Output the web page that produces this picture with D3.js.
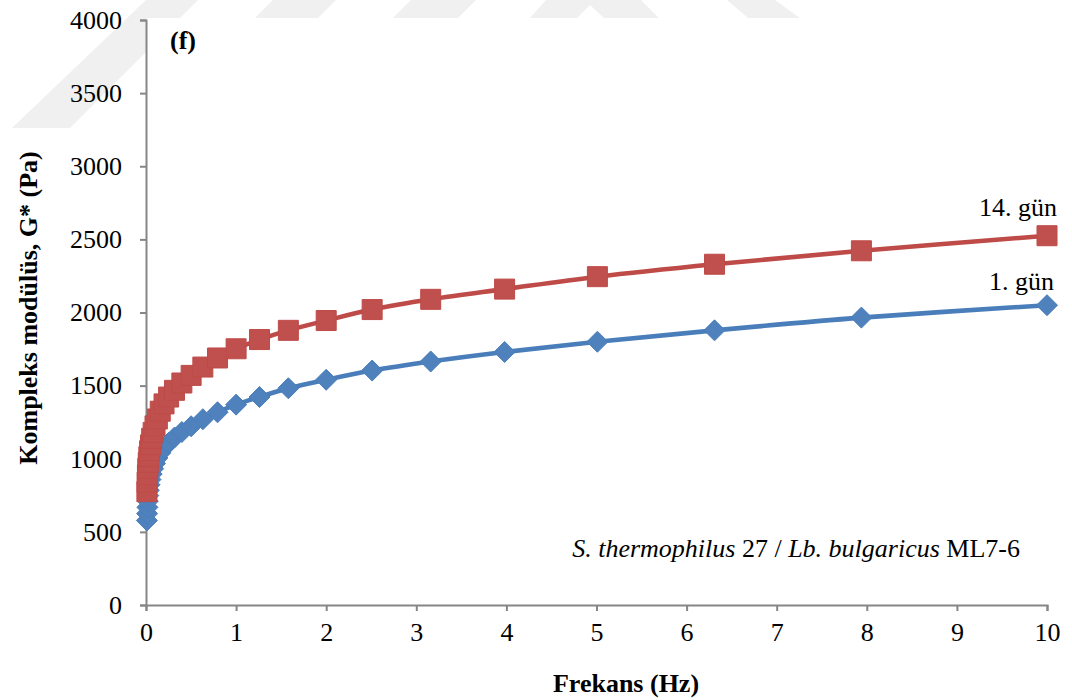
<!DOCTYPE html>
<html>
<head>
<meta charset="utf-8">
<script src="https://cdn.jsdelivr.net/npm/d3@7"></script>
<style>
  html, body { margin: 0; padding: 0; background: #fff; }
  svg { display: block; }
  text { font-family: "Liberation Serif", "Times New Roman", serif; fill: #000; }
</style>
</head>
<body>
<svg id="chart" width="1072" height="700"></svg>
<script>
// Oscillation frequency sweep (Hz), 10 points per decade
const frequency = [0.01, 0.0126, 0.0158, 0.02, 0.0251, 0.0316, 0.0398, 0.0501, 0.0631, 0.0794,
                   0.1, 0.126, 0.158, 0.2, 0.251, 0.316, 0.398, 0.501, 0.631, 0.794,
                   1.0, 1.26, 1.58, 2.0, 2.51, 3.16, 3.98, 5.01, 6.31, 7.94, 10];
// Complex modulus G* (Pa), day 1 of storage
const day1 = [578, 625, 668, 710, 748, 785, 822, 858, 895, 932,
              968, 1005, 1040, 1075, 1108, 1145, 1183, 1222, 1270, 1318,
              1370, 1422, 1482, 1540, 1603, 1665, 1730, 1800, 1878, 1965, 2050];
// Complex modulus G* (Pa), day 14 of storage
const day14 = [775, 840, 890, 935, 975, 1015, 1055, 1095, 1140, 1180,
               1225, 1272, 1325, 1375, 1422, 1468, 1518, 1570, 1627, 1689,
               1752, 1815, 1878, 1945, 2020, 2090, 2160, 2245, 2330, 2422, 2525];
const seriesNames = ["1. gün", "14. gün"];
const xTicks = [0, 1, 2, 3, 4, 5, 6, 7, 8, 9, 10];
const yTicks = [0, 500, 1000, 1500, 2000, 2500, 3000, 3500, 4000];

const svg = d3.select("#chart");
const axisColor = "#868686";
const blue = "#4A7EBB", blueFill = "#4F81BD";
const red = "#BE4B48", redFill = "#C0504D";
const fontSize = 26;

// faint background emblem, mostly hidden behind the chart area
const wm = svg.append("g").attr("fill", "#f0f0f0");
const shapes = [
  [[12,128],[70,128],[198,0],[146,0]],
  [[255,18],[318,18],[336,0],[273,0]],
  [[393,18],[458,18],[476,0],[411,0]],
  [[530,18],[546,0],[641,0],[659,18],[604,18],[590,5],[577,18]],
  [[727,0],[775,0],[800,18],[748,18]]
];
shapes.forEach(p => wm.append("polygon").attr("points", p.map(d => d.join(",")).join(" ")));
svg.append("rect").attr("x", 147).attr("y", 18).attr("width", 1072 - 147).attr("height", 700 - 18).attr("fill", "#fff");

const x = d3.scaleLinear().domain([0, 10]).range([146, 1047]);
const y = d3.scaleLinear().domain([0, 4000]).range([605, 20]);

// axes
const xAxis = svg.append("g").attr("transform", `translate(0,${y(0)})`)
  .call(d3.axisBottom(x).tickValues(xTicks).tickSize(6).tickPadding(12).tickFormat(d3.format("d")));
const yAxis = svg.append("g").attr("transform", `translate(${x(0)},0)`)
  .call(d3.axisLeft(y).tickValues(yTicks).tickSize(6).tickPadding(18).tickFormat(d3.format("d")));
[xAxis, yAxis].forEach(g => {
  g.select(".domain").attr("stroke", axisColor).attr("stroke-width", 2);
  g.selectAll(".tick line").attr("stroke", axisColor).attr("stroke-width", 2);
  g.selectAll(".tick text").attr("font-size", fontSize).attr("fill", "#000");
});

// series
const line = d3.line().x(d => x(d[0])).y(d => y(d[1])).curve(d3.curveCatmullRom.alpha(0.5));
const ptsDay1 = frequency.map((f, i) => [f, day1[i]]);
const ptsDay14 = frequency.map((f, i) => [f, day14[i]]);

function drawSeries(pts, color, fill, symbolType, size) {
  const g = svg.append("g");
  g.append("path").datum(pts).attr("d", line).attr("fill", "none")
    .attr("stroke", color).attr("stroke-width", 4.6).attr("stroke-linejoin", "round");
  g.selectAll("path.marker").data(pts).join("path").attr("class", "marker")
    .attr("d", d3.symbol().type(symbolType).size(size))
    .attr("transform", d => `translate(${x(d[0])},${y(d[1])})`)
    .attr("fill", fill).attr("stroke", color).attr("stroke-width", 1);
}
// diamond: rotated square
const diamond = { draw(ctx, size) { const r = Math.sqrt(size / 2); ctx.moveTo(0, -r); ctx.lineTo(r, 0); ctx.lineTo(0, r); ctx.lineTo(-r, 0); ctx.closePath(); } };
drawSeries(ptsDay1, blue, blueFill, diamond, 2 * 10.5 * 10.5);
drawSeries(ptsDay14, red, redFill, d3.symbolSquare, 20 * 20);

// series labels at the last point
svg.append("text").attr("x", 1057).attr("y", 216).attr("text-anchor", "end")
  .attr("font-size", fontSize).text(seriesNames[1]);
svg.append("text").attr("x", 1054).attr("y", 290).attr("text-anchor", "end")
  .attr("font-size", fontSize).text(seriesNames[0]);

// panel letter
svg.append("text").attr("x", 170).attr("y", 49).attr("font-size", fontSize).attr("font-weight", "bold").text("(f)");

// culture annotation
const ann = svg.append("text").attr("x", 1020).attr("y", 557).attr("text-anchor", "end").attr("font-size", fontSize);
ann.append("tspan").attr("font-style", "italic").text("S. thermophilus");
ann.append("tspan").text(" 27 / ");
ann.append("tspan").attr("font-style", "italic").text("Lb. bulgaricus");
ann.append("tspan").text(" ML7-6");

// axis titles
svg.append("text").attr("x", 626).attr("y", 692).attr("text-anchor", "middle")
  .attr("font-size", fontSize).attr("font-weight", "bold").text("Frekans (Hz)");
svg.append("text").attr("transform", "translate(37,308) rotate(-90)").attr("text-anchor", "middle")
  .attr("font-size", fontSize).attr("font-weight", "bold").text("Kompleks modülüs, G* (Pa)");
</script>
</body>
</html>
